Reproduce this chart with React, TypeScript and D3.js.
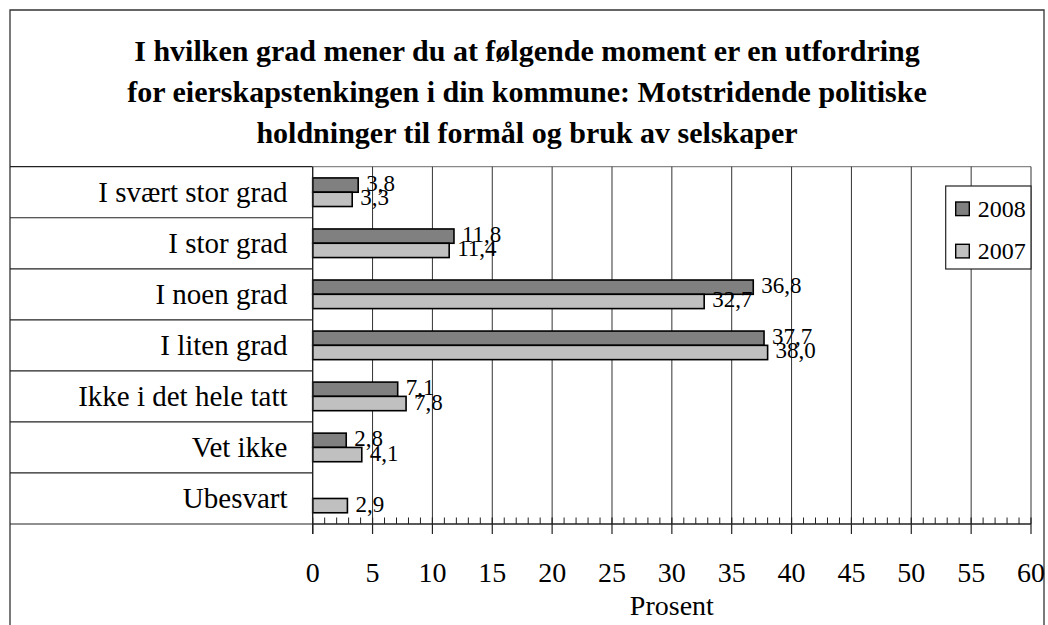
import React from "react";
import * as d3 from "d3";

const titleLines = [
  "I hvilken grad mener du at følgende moment er en utfordring",
  "for eierskapstenkingen i din kommune: Motstridende politiske",
  "holdninger til formål og bruk av selskaper",
];
const categories = [
  "I svært stor grad",
  "I stor grad",
  "I noen grad",
  "I liten grad",
  "Ikke i det hele tatt",
  "Vet ikke",
  "Ubesvart",
];
const seriesNames = ["2008", "2007"];
const values2008: (number | null)[] = [3.8, 11.8, 36.8, 37.7, 7.1, 2.8, null];
const values2007: (number | null)[] = [3.3, 11.4, 32.7, 38.0, 7.8, 4.1, 2.9];
const xTicks = [0, 5, 10, 15, 20, 25, 30, 35, 40, 45, 50, 55, 60];
const xAxisTitle = "Prosent";

const FONT = "'Liberation Serif', 'Times New Roman', serif";
const colors: Record<string, string> = { "2008": "#808080", "2007": "#c0c0c0" };

export default function App() {
  const W = 1048, H = 625;
  const frame = { left: 10, top: 10, right: 1044 };
  const plot = { left: 312.7, right: 1031, top: 166.7, bottom: 524 };

  const x = d3.scaleLinear().domain([0, 60]).range([plot.left, plot.right]);
  const pad = 0.44;
  const y = d3
    .scaleBand<string>()
    .domain(categories)
    .range([plot.top, plot.bottom])
    .paddingInner(pad)
    .paddingOuter(pad / 2);
  const sub = d3.scaleBand<string>().domain(seriesNames).range([0, y.bandwidth()]);
  const step = y.step();

  const fmt = (v: number) => d3.format(".1f")(v).replace(".", ",");
  const data = [
    { name: "2008", values: values2008 },
    { name: "2007", values: values2007 },
  ];
  const minorTicks = d3.range(0, 61, 1).filter((t) => t % 5 !== 0);
  const rowLines = d3.range(0, categories.length + 1).map((i) => plot.top + i * step);
  const titleCx = (frame.left + frame.right) / 2;

  return (
    <svg
      width={W}
      height={H}
      style={{ position: "absolute", left: 0, top: 0, background: "#fff" }}
      fontFamily={FONT}
    >
      <rect x={0} y={0} width={W} height={H} fill="#fff" />
      {/* outer frame */}
      <path
        d={`M${frame.left},${H} V${frame.top} H${frame.right} V${H}`}
        fill="none"
        stroke="#333"
        strokeWidth={1.3}
      />
      {/* title */}
      {titleLines.map((t, i) => (
        <text
          key={i}
          x={titleCx}
          y={60.7 + i * 41}
          textAnchor="middle"
          fontSize={30}
          fontWeight="bold"
          fill="#000"
        >
          {t}
        </text>
      ))}
      {/* row lines on the left */}
      {rowLines.map((ry, i) => (
        <line key={i} x1={frame.left} x2={plot.left} y1={ry} y2={ry} stroke="#222" strokeWidth={1.2} />
      ))}
      {/* plot top border */}
      <line x1={plot.left} x2={plot.right} y1={plot.top} y2={plot.top} stroke="#888" strokeWidth={1.2} />
      {/* gridlines */}
      {xTicks.slice(1).map((t) => (
        <line key={t} x1={x(t)} x2={x(t)} y1={plot.top} y2={plot.bottom} stroke="#333" strokeWidth={1} />
      ))}
      {/* category labels */}
      {categories.map((c) => (
        <text
          key={c}
          x={287.5}
          y={(y(c) as number) + y.bandwidth() / 2 + 10}
          textAnchor="end"
          fontSize={29}
          fill="#000"
        >
          {c}
        </text>
      ))}
      {/* bars */}
      {data.map((s) =>
        categories.map((c, i) => {
          const v = s.values[i];
          if (v == null) return null;
          const by = (y(c) as number) + (sub(s.name) as number);
          return (
            <rect
              key={s.name + c}
              x={x(0)}
              y={by}
              width={x(v) - x(0)}
              height={sub.bandwidth()}
              fill={colors[s.name]}
              stroke="#000"
              strokeWidth={1.6}
            />
          );
        })
      )}
      {/* data labels */}
      {data.map((s) =>
        categories.map((c, i) => {
          const v = s.values[i];
          if (v == null) return null;
          const by = (y(c) as number) + (sub(s.name) as number) + sub.bandwidth() / 2;
          return (
            <text key={"l" + s.name + c} x={x(v) + 8} y={by + 6} fontSize={23} fill="#000">
              {fmt(v)}
            </text>
          );
        })
      )}
      {/* axes */}
      <line x1={plot.left} x2={plot.left} y1={plot.top} y2={plot.bottom + 10} stroke="#222" strokeWidth={1.4} />
      <line x1={plot.left} x2={plot.right} y1={plot.bottom} y2={plot.bottom} stroke="#222" strokeWidth={1.4} />
      {minorTicks.map((t) => (
        <line key={"m" + t} x1={x(t)} x2={x(t)} y1={plot.bottom - 6.5} y2={plot.bottom} stroke="#222" strokeWidth={1} />
      ))}
      {xTicks.map((t) => (
        <line key={"M" + t} x1={x(t)} x2={x(t)} y1={plot.bottom - 6.5} y2={plot.bottom + 10} stroke="#222" strokeWidth={1.2} />
      ))}
      {xTicks.map((t) => (
        <text key={"t" + t} x={x(t)} y={582} textAnchor="middle" fontSize={28} fill="#000">
          {t}
        </text>
      ))}
      <text x={(plot.left + plot.right) / 2} y={615} textAnchor="middle" fontSize={28} fill="#000">
        {xAxisTitle}
      </text>
      {/* legend */}
      <g>
        <rect x={945.7} y={186} width={1031 - 945.7} height={83} fill="#fff" stroke="#222" strokeWidth={1.2} />
        {seriesNames.map((n, i) => (
          <g key={n}>
            <rect
              x={955.7}
              y={202 + i * 42.3}
              width={13.6}
              height={13.6}
              fill={colors[n]}
              stroke="#000"
              strokeWidth={1.4}
            />
            <text x={977.7} y={217.3 + i * 42} fontSize={24} fill="#000">
              {n}
            </text>
          </g>
        ))}
      </g>
    </svg>
  );
}
